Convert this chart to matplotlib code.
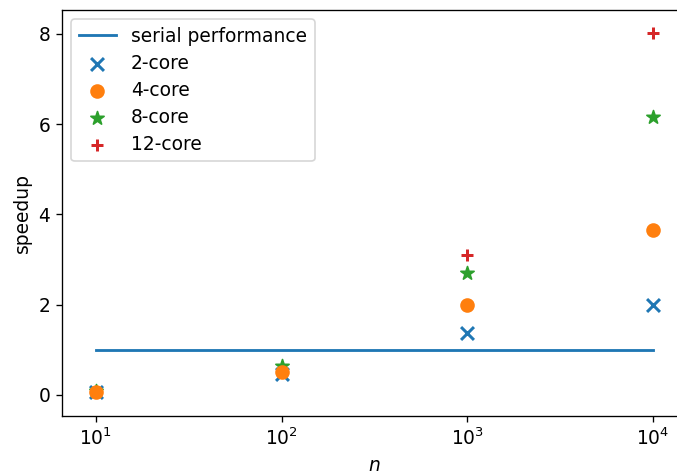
import matplotlib
matplotlib.use("Agg")
import matplotlib.pyplot as plt
from matplotlib.ticker import NullLocator

n_values = [10, 100, 1000, 10000]
serial = [1, 1, 1, 1]
speedup_2 = [0.07, 0.46, 1.38, 1.98]
speedup_4 = [0.07, 0.50, 1.98, 3.65]
speedup_8 = [0.08, 0.63, 2.69, 6.15]
speedup_12 = [0.07, 0.50, 3.11, 8.02]

plt.rcParams["font.size"] = 11.2
dpi = 120
fig = plt.figure(figsize=(677 / dpi, 475 / dpi), dpi=dpi)
ax = fig.add_axes([62 / 677, 1 - 416 / 475, 625 / 677, 406 / 475])

ax.plot(n_values, serial, color="C0", linewidth=1.7, label="serial performance")
ax.scatter(n_values, speedup_2, marker="x", color="C0", s=60, linewidths=1.8, label="2-core", zorder=2.1)
ax.scatter(n_values, speedup_4, marker="o", color="C1", s=60, label="4-core", zorder=2.4)
ax.scatter(n_values, speedup_8, marker="*", color="C2", s=70, label="8-core", zorder=2.2)
ax.scatter(n_values, speedup_12, marker="+", color="C3", s=60, linewidths=1.8, label="12-core", zorder=2.3)

ax.set_xscale("log")
ax.xaxis.set_minor_locator(NullLocator())
ax.set_xlim(10 ** 0.817, 10 ** 4.183)
ax.set_ylim(-0.47, 8.53)
ax.set_yticks([0, 2, 4, 6, 8])
ax.spines["right"].set_visible(False)
ax.set_xlabel("$n$")
ax.set_ylabel("speedup")
ax.legend(loc="upper left", labelspacing=0.43)

fig.savefig("out.png", dpi=dpi)
